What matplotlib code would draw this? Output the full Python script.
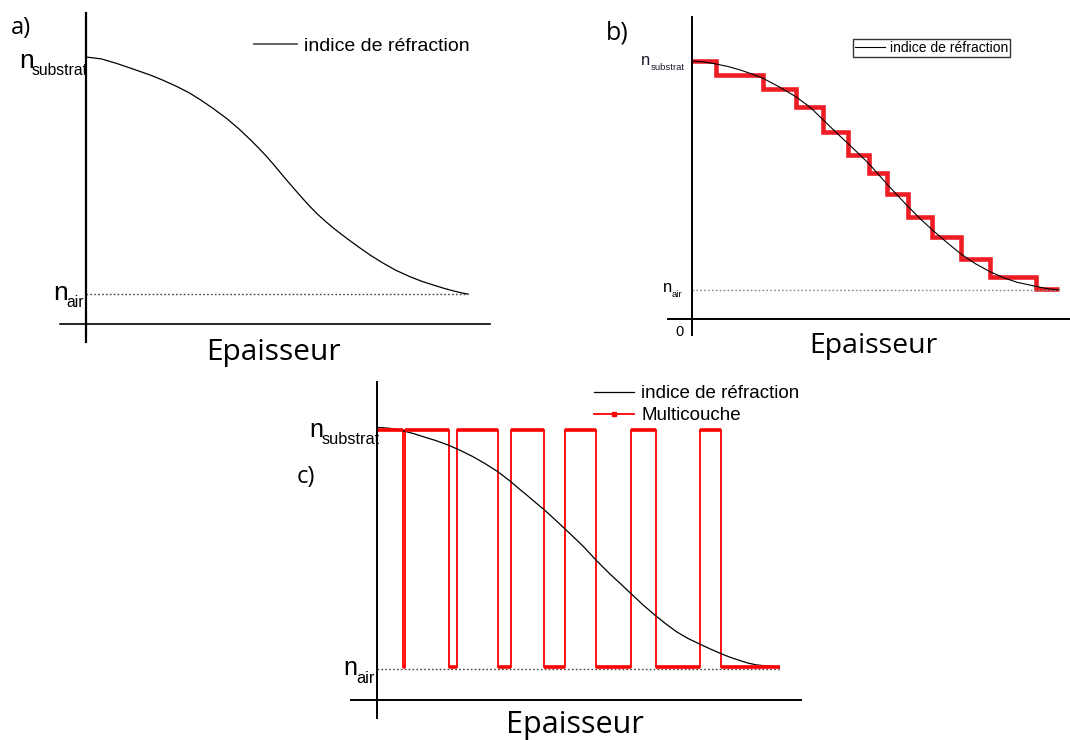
import matplotlib
matplotlib.use("Agg")
import matplotlib.pyplot as plt
from matplotlib.lines import Line2D

plt.rcParams['font.family'] = ['Liberation Sans', 'DejaVu Sans']

# ---------------- data (normalised: thickness 0..1, index 0 = n_air, 1 = n_substrat)
a_thickness = [0, 0.04, 0.08, 0.12, 0.168, 0.20, 0.237, 0.27, 0.298, 0.33, 0.368,
               0.40, 0.429, 0.45, 0.473, 0.495, 0.517, 0.54, 0.56, 0.58, 0.604,
               0.625, 0.647, 0.68, 0.713, 0.745, 0.778, 0.81, 0.848, 0.88, 0.909,
               0.935, 0.962, 0.985, 1.0]
a_index = [1.0, 0.992, 0.973, 0.951, 0.924, 0.903, 0.876, 0.849, 0.821, 0.786,
           0.741, 0.697, 0.653, 0.619, 0.580, 0.539, 0.496, 0.453, 0.416, 0.380,
           0.340, 0.309, 0.279, 0.238, 0.199, 0.163, 0.130, 0.101, 0.073, 0.053,
           0.038, 0.025, 0.013, 0.004, 0.0]

b_thickness = [0, 0.032, 0.065, 0.098, 0.131, 0.162, 0.194, 0.240, 0.283, 0.322,
               0.358, 0.394, 0.426, 0.455, 0.483, 0.531, 0.56, 0.589, 0.62, 0.655,
               0.695, 0.733, 0.772, 0.812, 0.85, 0.885, 0.937, 0.967, 1.0]
b_index = [1.0, 0.996, 0.987, 0.976, 0.961, 0.944, 0.924, 0.885, 0.844, 0.798,
           0.742, 0.686, 0.638, 0.594, 0.550, 0.463, 0.413, 0.364, 0.314, 0.262,
           0.207, 0.157, 0.115, 0.080, 0.053, 0.034, 0.016, 0.006, 0.0]
b_layer_edges = [0, 0.065, 0.194, 0.283, 0.358, 0.426, 0.483, 0.531, 0.589,
                 0.655, 0.733, 0.812, 0.937, 1.0]
b_layer_index = [1.0, 0.939, 0.876, 0.800, 0.689, 0.590, 0.510, 0.418, 0.320,
                 0.230, 0.135, 0.055, 0.006]

c_thickness = [0, 0.0315, 0.065, 0.09, 0.114, 0.145, 0.176, 0.207, 0.238, 0.268,
               0.299, 0.330, 0.35, 0.371, 0.392, 0.416, 0.44, 0.468, 0.49, 0.512,
               0.527, 0.543, 0.56, 0.578, 0.60, 0.629, 0.66, 0.694, 0.718, 0.743,
               0.77, 0.801, 0.828, 0.855, 0.878, 0.901, 0.92, 0.942, 0.97, 0.998]
c_index = [1.011, 1.007, 0.996, 0.985, 0.972, 0.956, 0.937, 0.914, 0.888, 0.859,
           0.826, 0.786, 0.757, 0.728, 0.698, 0.664, 0.627, 0.583, 0.548, 0.512,
           0.485, 0.456, 0.427, 0.397, 0.363, 0.317, 0.268, 0.219, 0.187, 0.156,
           0.129, 0.104, 0.083, 0.063, 0.048, 0.035, 0.025, 0.017, 0.012, 0.010]
c_layer_edges = [0, 0.0626, 0.070, 0.177, 0.199, 0.300, 0.331, 0.415, 0.467,
                 0.543, 0.629, 0.693, 0.801, 0.853, 1.0]
c_layer_index = [1.0, 0.008, 1.0, 0.008, 1.0, 0.008, 1.0, 0.008, 1.0, 0.008,
                 1.0, 0.008, 1.0, 0.008]

n_air_level = 0.0
legend_label = "indice de réfraction"
multi_label = "Multicouche"
x_title = "Epaisseur"

# ---------------- layout helpers (pixel based)
W, H = 1070, 740
fig = plt.figure(figsize=(W / 100, H / 100), dpi=100)


def px_axes(x0, y_top, x1, y_bot):
    ax = fig.add_axes([x0 / W, 1 - y_bot / H, (x1 - x0) / W, (y_bot - y_top) / H])
    ax.set_xlim(0, 1)
    ax.set_ylim(0, 1)
    ax.set_axis_off()
    return ax


def fline(x1, y1, x2, y2, **kw):
    fig.add_artist(Line2D([x1 / W, x2 / W], [1 - y1 / H, 1 - y2 / H],
                          transform=fig.transFigure, **kw))


def ftext(x, y, s, **kw):
    kw.setdefault('va', 'baseline')
    kw.setdefault('ha', 'left')
    fig.text(x / W, 1 - y / H, s, **kw)


title_font = ['Open Sans', 'DejaVu Sans']
dot_style = (0, (1.2, 1.6))

# ================= panel a
axa = px_axes(86, 57, 468, 294)
la, = axa.plot(a_thickness, a_index, color='black', lw=0.9, label=legend_label,
               clip_on=False)
axa.axhline(n_air_level, color='#444444', lw=1.0, ls=dot_style, clip_on=False)
fline(86, 13, 86, 342, color='black', lw=1.6)
fline(60, 324, 490, 324, color='black', lw=1.2)
axa.legend(handles=[Line2D([], [], color='#555555', lw=1.3)], labels=[legend_label],
           loc='upper left', bbox_to_anchor=(254 / W, 1 - 37 / H),
           bbox_transform=fig.transFigure, frameon=False, borderpad=0,
           borderaxespad=0, handlelength=2.2, handletextpad=0.35, fontsize=14)
ftext(11, 34, "a)", fontsize=17, family=title_font)
ftext(19, 68, "n", fontsize=19)
ftext(32, 75, "substrat", fontsize=11.3)
ftext(53, 300, "n", fontsize=19)
ftext(66, 307, "air", fontsize=11.3)
ftext(273, 360, x_title, fontsize=21.5, family=title_font, ha='center')

# ================= panel b
red_b = '#ee1c24'
axb = px_axes(692, 61, 1059, 290)
lb, = axb.plot(b_thickness, b_index, color='black', lw=0.8, clip_on=False)
axb.stairs(b_layer_index, b_layer_edges, baseline=None, color=red_b, lw=3.3,
           clip_on=False)
axb.axhline(n_air_level, color='#888888', lw=1.0, ls=dot_style, clip_on=False)
fline(692, 17, 692, 335, color='black', lw=1.4)
fline(668, 319, 1070, 319, color='black', lw=1.4)
legb = axb.legend(handles=[Line2D([], [], color='black', lw=0.8)], labels=[legend_label],
                  loc='upper left', bbox_to_anchor=(853 / W, 1 - 39 / H),
                  bbox_transform=fig.transFigure, frameon=True, fancybox=False,
                  edgecolor='#333333', framealpha=1, borderpad=0.15,
                  borderaxespad=0, handlelength=2.15, handletextpad=0.35,
                  fontsize=10)
legb.get_frame().set_linewidth(1.0)
ftext(606, 39, "b)", fontsize=18, family=title_font)
ftext(641, 65, "n", fontsize=12, color='#1a1a30')
ftext(651, 70, "substrat", fontsize=6.8, color='#1a1a30')
ftext(663, 291.5, "n", fontsize=12)
ftext(671.5, 297, "air", fontsize=6.8)
ftext(675, 336.5, "0", fontsize=10.5)
ftext(873, 353, x_title, fontsize=20.5, family=title_font, ha='center')

# ================= panel c
axc = px_axes(377.3, 430, 780, 669)
lc, = axc.plot(c_thickness, c_index, color='black', lw=0.9, clip_on=False)
axc.axhline(n_air_level, color='#444444', lw=1.0, ls=dot_style, clip_on=False)
axc.stairs(c_layer_index, c_layer_edges, baseline=None, color='red', lw=1.3,
           clip_on=False)
axc.hlines(c_layer_index, c_layer_edges[:-1], c_layer_edges[1:], color='red',
           lw=2.6, clip_on=False)
fline(377.3, 382, 377.3, 718, color='black', lw=1.4)
fline(351, 700, 801, 700, color='black', lw=1.4)
axc.legend(handles=[Line2D([], [], color='black', lw=0.9),
                    Line2D([], [], color='red', lw=1.3, marker='s', markersize=2.5)],
           labels=[legend_label, multi_label],
           loc='upper left', bbox_to_anchor=(594 / W, 1 - 385 / H),
           bbox_transform=fig.transFigure, frameon=False, borderpad=0,
           borderaxespad=0, handlelength=2.15, handletextpad=0.37,
           labelspacing=0.26, fontsize=13.5)
ftext(297, 483, "c)", fontsize=17, family=title_font)
ftext(309, 437, "n", fontsize=18)
ftext(322, 444, "substrat", fontsize=11.8)
ftext(343, 675, "n", fontsize=18)
ftext(356.5, 683, "air", fontsize=11.8)
ftext(575, 733, x_title, fontsize=22, family=title_font, ha='center')

fig.savefig("out.png", dpi=100)
